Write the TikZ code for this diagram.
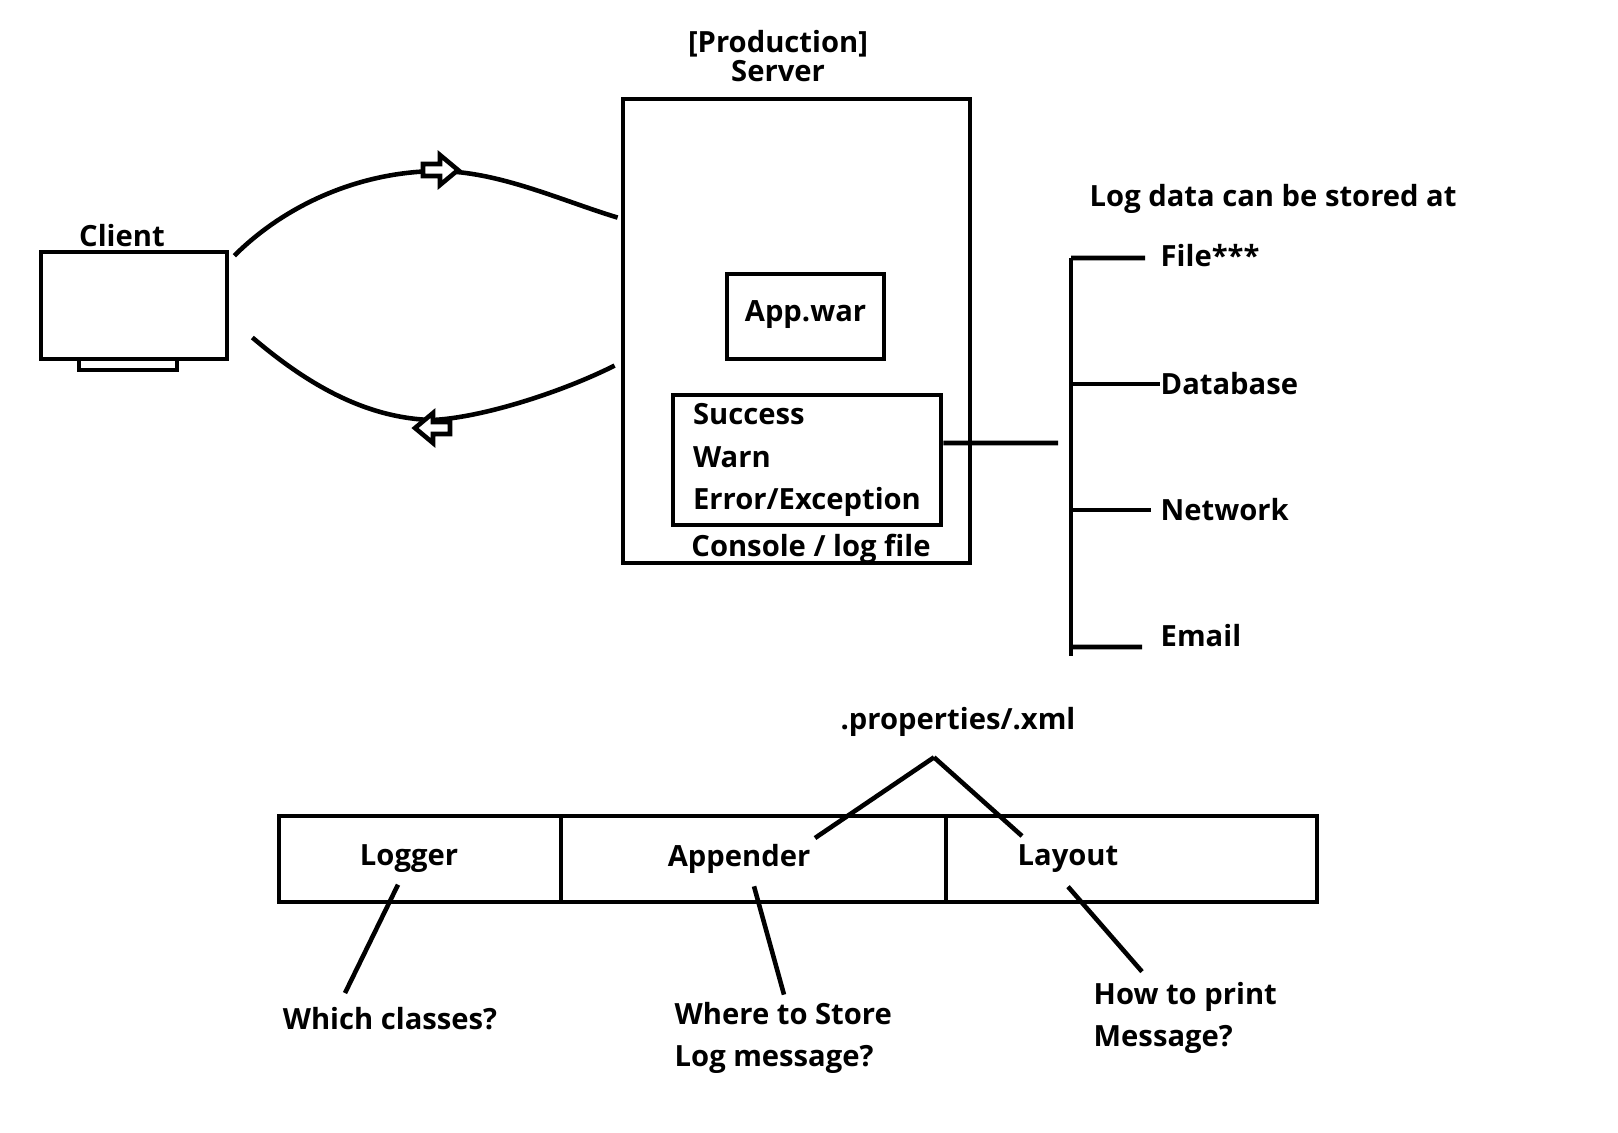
\documentclass[tikz,border=0pt]{standalone}
\usepackage{fontspec}
\setmainfont{Open Sans}
\usetikzlibrary{positioning,calc}
\tikzstyle{bx}=[draw=black,line width=1.3pt,rectangle,inner sep=0pt]
\tikzstyle{lbl}=[inner sep=0pt,font=\fontsize{8.3}{12}\selectfont\bfseries]
\tikzstyle{ln}=[line width=1.3pt]
\tikzset{hollow/.pic={\draw[ln,fill=white,line join=miter] (-17,-6) -- (0,-6) -- (0,-15) -- (18,0) -- (0,15) -- (0,6) -- (-17,6) -- cycle;}}

\begin{document}
\begin{tikzpicture}[x=0.01cm,y=-0.01cm]
  \useasboundingbox[fill=white] (0,0) rectangle (1618,1132);
  % client
  \node[bx,minimum width=1.86cm,minimum height=1.07cm] (client) at (134,305.5) {};
  \draw[ln] (79,359) rectangle (177,370);
  \node[lbl] (clientt) at (122,236) {Client};
  % server
  \node[bx,minimum width=3.47cm,minimum height=4.64cm] (server) at (796.5,331) {};
  \node[lbl,align=center,font=\fontsize{8.3}{8.3}\selectfont\bfseries] (servert) at (778,56) {[Production]\\Server};
  \node[bx,lbl,minimum width=1.57cm,minimum height=0.85cm,text depth=0.1cm] (app) at (805.5,316.5) {App.war};
  \node[bx,lbl,align=left,minimum width=2.68cm,minimum height=1.3cm] (log) at (807,460) {Success\\Warn\\Error/Exception};
  \node[lbl] (console) at (811,549) {Console / log file};
  % client <-> server
  \coordinate (c1) at ($(client.north east)+(5,6)$);
  \coordinate (c2) at ($(server.north west)+(-3,121)$);
  \coordinate (c3) at ($(client.east)+(23,32)$);
  \coordinate (c4) at ($(server.north west)+(-6,269)$);
  \draw[ln] (c1) .. controls (285,205) and (360,171) .. (440,171)
                 .. controls (500,172) and (560,200) .. (c2);
  \draw[ln] (c3) .. controls (300,378) and (360,418) .. (432,420)
                 .. controls (480,418) and (560,393) .. (c4);
  \pic at (440,170) {hollow};
  \pic[rotate=180] at (433,428) {hollow};
  % storage
  \coordinate (bus) at (1058,443);
  \draw[ln] ([yshift=0.17cm]log.east) -- (bus);
  \draw[ln] (1071,258) -- (1071,656);
  \node[lbl,anchor=west] (stored) at (1089,199) {Log data can be stored at};
  \node[lbl,anchor=west] (file) at (1160,256) {File***};
  \node[lbl,anchor=west] (db) at (1160,384) {Database};
  \node[lbl,anchor=west] (net) at (1160,510) {Network};
  \node[lbl,anchor=west] (mail) at (1160,636) {Email};
  \draw[ln] (1071,258) -- ([xshift=-0.15cm,yshift=-0.02cm]file.west);
  \draw[ln] (1071,384) -- (db.west);
  \draw[ln] (1071,510) -- ([xshift=-0.09cm]net.west);
  \draw[ln] (1071,647) -- ([xshift=-0.18cm,yshift=-0.11cm]mail.west);
  % log4j parts
  \node[bx,minimum width=2.82cm,minimum height=0.86cm] (lgr) at (420,859) {};
  \node[bx,minimum width=3.85cm,minimum height=0.86cm] (apd) at (753.5,859) {};
  \node[bx,minimum width=3.71cm,minimum height=0.86cm] (lay) at (1131.5,859) {};
  \node[lbl] (lgrt) at (409,859) {Logger};
  \node[lbl] (apdt) at (739,859) {Appender};
  \node[lbl] (layt) at (1068,859) {Layout};
  \node[lbl] (props) at (958,722) {.properties/.xml};
  \node[lbl] (which) at (390,1019) {Which classes?};
  \node[lbl,align=left,anchor=west] (where) at (674,1038) {Where to Store\\Log message?};
  \node[lbl,align=left,anchor=west] (how) at (1093,1018) {How to print\\Message?};
  \coordinate (apex) at ($(props.south)+(-24,20)$);
  \draw[ln] (apex) -- (815,838);
  \draw[ln] (apex) -- (1022,836);
  \draw[ln] ($(lgrt.south)+(-11,11)$) -- ($(which.north)+(-45,-14)$);
  \draw[ln] ($(apdt.south)+(15,12)$) -- ($(where.north west)+(110,-7)$);
  \draw[ln] ($(layt.south)+(0,13)$) -- ($(how.north west)+(49,-10)$);
\end{tikzpicture}
\end{document}
